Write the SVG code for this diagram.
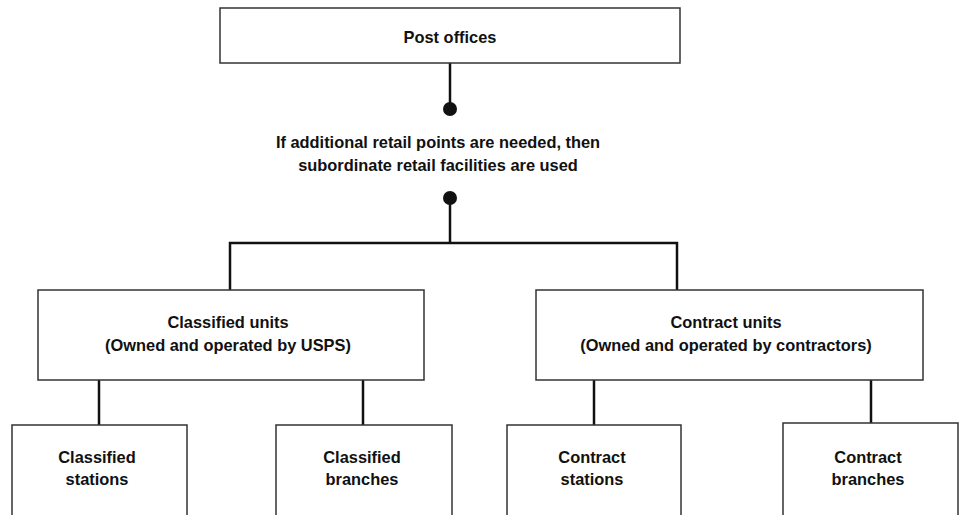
<svg xmlns="http://www.w3.org/2000/svg" width="964" height="515" viewBox="0 0 964 515">
<style>
.box{fill:#fff;stroke:#333;stroke-width:1.5}
.t{font-family:"Liberation Sans",Arial,sans-serif;font-weight:bold;font-size:16.4px;fill:#111;text-anchor:middle}
.c{fill:none;stroke:#111;stroke-width:2.5}
.dot{fill:#111}
</style>
<rect width="964" height="515" fill="#fff"/>
<g id="connectors">
<line class="c" x1="450" y1="63" x2="450" y2="109"/>
<circle class="dot" cx="450" cy="109" r="7"/>
<circle class="dot" cx="450" cy="198" r="7"/>
<polyline class="c" points="450,198 450,243"/>
<polyline class="c" points="230,290 230,243 677,243 677,290"/>
<line class="c" x1="99" y1="380" x2="99" y2="425"/>
<line class="c" x1="363" y1="380" x2="363" y2="425"/>
<line class="c" x1="594" y1="380" x2="594" y2="425"/>
<line class="c" x1="871" y1="380" x2="871" y2="423"/>
</g>
<g id="post-offices">
<rect class="box" x="220" y="8" width="460" height="55"/>
<text class="t" x="450" y="43">Post offices</text>
</g>
<g id="condition">
<text class="t" x="438" y="148">If additional retail points are needed, then</text>
<text class="t" x="438" y="171">subordinate retail facilities are used</text>
</g>
<g id="classified-units">
<rect class="box" x="38" y="290" width="386" height="90"/>
<text class="t" x="228" y="328">Classified units</text>
<text class="t" x="228" y="351">(Owned and operated by USPS)</text>
</g>
<g id="contract-units">
<rect class="box" x="536" y="290" width="387" height="90"/>
<text class="t" x="726" y="328">Contract units</text>
<text class="t" x="726" y="351">(Owned and operated by contractors)</text>
</g>
<g id="classified-stations">
<rect class="box" x="12" y="425" width="175" height="100"/>
<text class="t" x="97" y="463">Classified</text>
<text class="t" x="97" y="485">stations</text>
</g>
<g id="classified-branches">
<rect class="box" x="276" y="425" width="176" height="100"/>
<text class="t" x="362" y="463">Classified</text>
<text class="t" x="362" y="485">branches</text>
</g>
<g id="contract-stations">
<rect class="box" x="507" y="425" width="174" height="100"/>
<text class="t" x="592" y="463">Contract</text>
<text class="t" x="592" y="485">stations</text>
</g>
<g id="contract-branches">
<rect class="box" x="783" y="423" width="175" height="100"/>
<text class="t" x="868" y="463">Contract</text>
<text class="t" x="868" y="485">branches</text>
</g>
</svg>
